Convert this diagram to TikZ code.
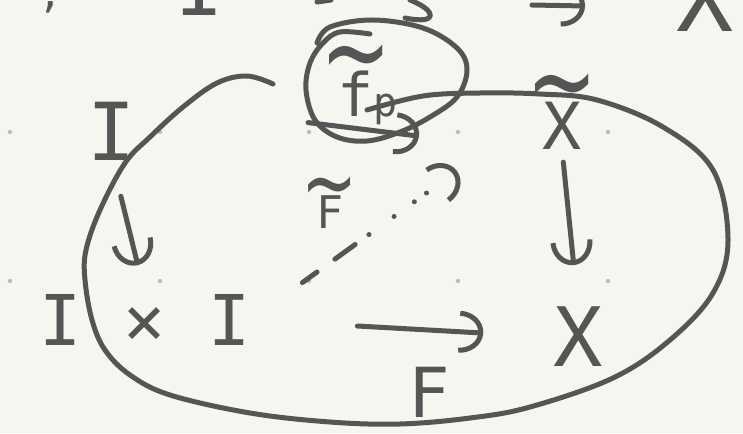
\documentclass[tikz,border=0pt]{standalone}
\usepackage{fontspec}
\usepackage{graphicx}
\usetikzlibrary{arrows.meta,calc,positioning}
\newfontfamily\handfont{DejaVu Sans Mono}
\newfontfamily\tildefont{DejaVu Sans}
\definecolor{noteInk}{HTML}{555555}
\definecolor{notePaper}{HTML}{F5F6F0}
\definecolor{noteDot}{HTML}{BDBDBD}
\newcommand{\wavy}[3]{\leavevmode\vbox{\offinterlineskip\halign{\hfil##\hfil\cr{\tildefont\fontsize{#1}{#1}\selectfont\scalebox{1}[1.4]{\char"7E}}\cr\noalign{\kern-#2pt}#3\cr}}}
\begin{document}
\begin{tikzpicture}[x=1pt,y=-1pt,>=Latex,line cap=round,line join=round]
\useasboundingbox (0,0) rectangle (743,433);
\clip (0,0) rectangle (743,433);
\path[fill=notePaper] (0,0) rectangle (743,433);
\tikzset{ink/.style={draw=noteInk,line width=5pt},mapto/.style={ink,-{Arc Barb[length=24pt,width=42pt]}},hand/.style={text=noteInk,inner sep=0pt,font=\handfont\fontsize{#1}{#1}\selectfont}}
\foreach \gx in {10,160,309,458,608} \foreach \gy in {132,281} \fill[noteDot] (\gx,\gy) circle[radius=2.2pt];
% cut-off line above
\node[hand=40,anchor=base] (topTick) at (51,8) {,};
\node[hand=80,anchor=base] (topI) at (200,16) {I};
\node[hand=95,anchor=base] (topX) at (705,32) {X};
\coordinate (topTail) at (532,5);
\coordinate (topHead) at (585,6);
\draw[mapto] (topTail) -- (topHead);
\draw[ink] (317,2) -- (331,0);
\draw[ink] (410,0) .. controls (436,10) and (440,25) .. (405,18);
% square
\node[hand=80] (Itop) at (112,131) {I};
\node[hand=65,anchor=base] (Xt) at (562,149) {\wavy{85}{20}{X}};
\node[hand=70] (IxI) at (145,320) {I × I};
\node[hand=82] (Xb) at (578,337) {X};
\node[hand=69] (Fname) at (429,392) {F};
\node[hand=45,anchor=base] (Flift) at (330,228) {\wavy{67}{19}{F}};
\node[hand=60,anchor=base west] (fp) at (320,117) {\wavy{85}{21}{f}\hspace{-18pt}{\fontsize{40}{40}\selectfont p}};
\coordinate (liftTip) at (457,171);
\draw[mapto,shorten <=173pt,shorten >=108pt] (Itop.north east) -- (Xt.south west);
\draw[mapto,shorten <=37pt,shorten >=30pt] (Itop.south) -- (IxI.north);
\draw[mapto,shorten <=13pt,shorten >=42pt] (Xt.south) -- (Xb.north);
\draw[mapto,shorten <=107pt,shorten >=70pt] (IxI.east) -- (Xb.west);
\draw[mapto,shorten <=64pt,dash pattern=on 18pt off 22pt on 25pt off 17pt on 0pt off 31pt on 0pt off 25pt on 0pt off 15pt on 0pt off 60pt] (IxI.east) -- (liftTip);
% loops
\draw[ink] plot[smooth,tension=0.6] coordinates {(273,84) (247,76) (217,83) (183,107) (150,137) (125,163) (100,210) (86,250) (85,280) (92,320) (105,350) (130,375) (170,395) (250,413) (330,422) (400,424) (470,418) (530,407) (613,378) (670,340) (713,293) (728,240) (713,170) (663,127) (597,100) (540,94) (480,93) (423,96) (367,110)};
\draw[ink] plot[smooth,tension=0.6] coordinates {(317,43) (330,27) (373,20) (423,28) (457,48) (467,70) (457,97) (430,117) (400,132) (367,141) (337,137) (315,120) (306,90) (310,63) (323,43) (340,32) (370,34)};
\end{tikzpicture}
\end{document}
